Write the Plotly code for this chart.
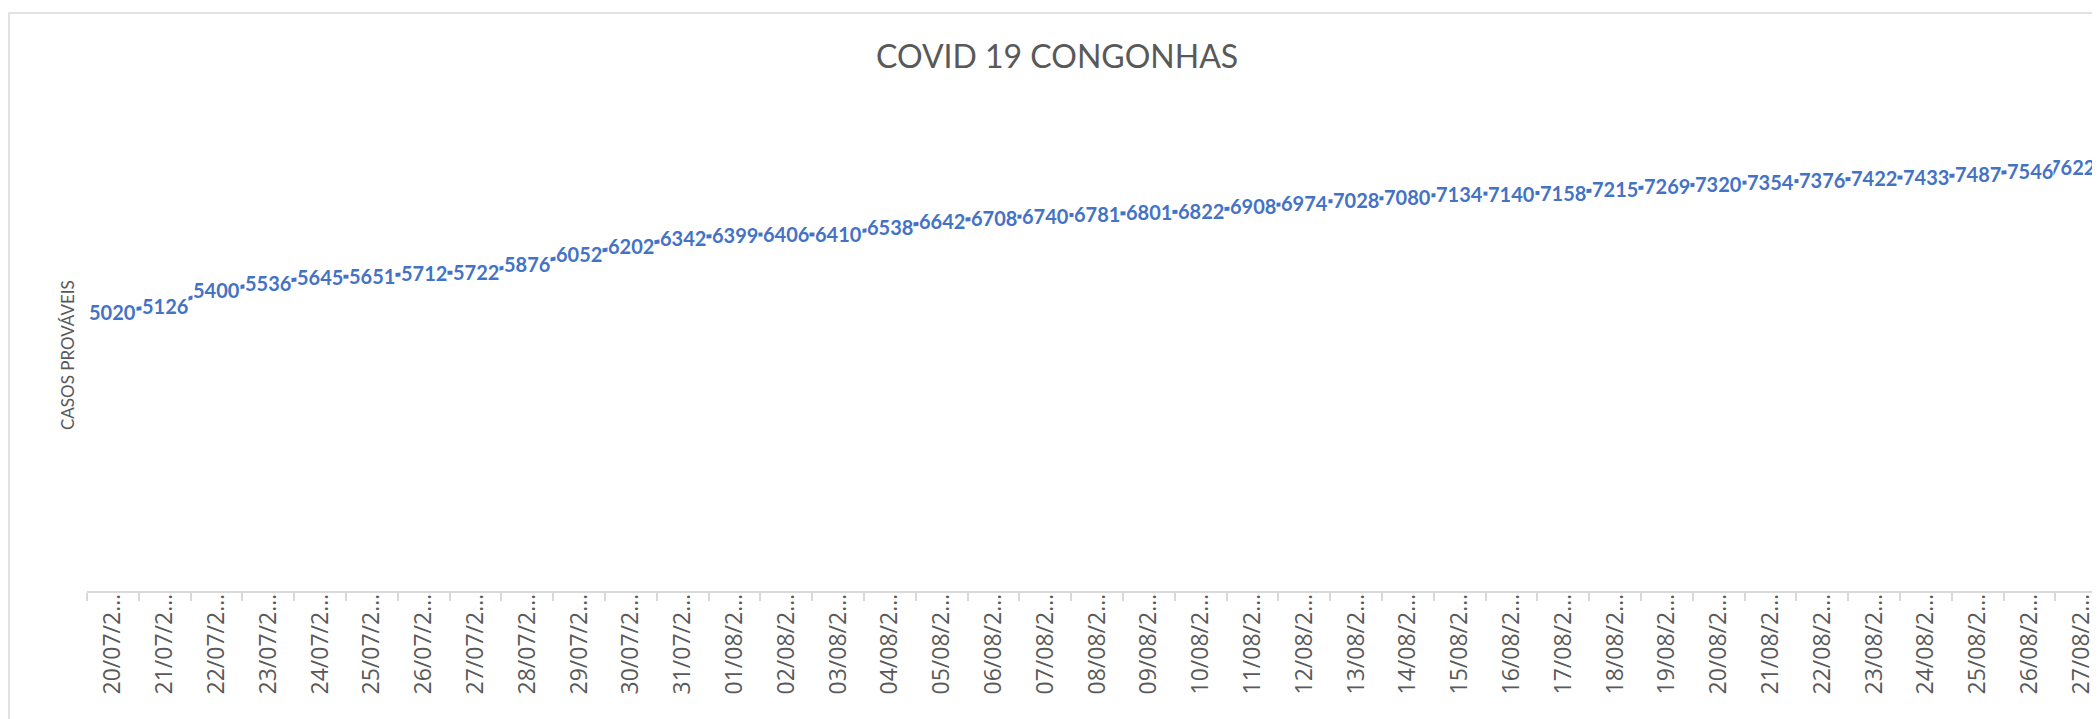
import plotly.graph_objects as go

dates = ["20/07/2…", "21/07/2…", "22/07/2…", "23/07/2…", "24/07/2…", "25/07/2…",
         "26/07/2…", "27/07/2…", "28/07/2…", "29/07/2…", "30/07/2…", "31/07/2…",
         "01/08/2…", "02/08/2…", "03/08/2…", "04/08/2…", "05/08/2…", "06/08/2…",
         "07/08/2…", "08/08/2…", "09/08/2…", "10/08/2…", "11/08/2…", "12/08/2…",
         "13/08/2…", "14/08/2…", "15/08/2…", "16/08/2…", "17/08/2…", "18/08/2…",
         "19/08/2…", "20/08/2…", "21/08/2…", "22/08/2…", "23/08/2…", "24/08/2…",
         "25/08/2…", "26/08/2…", "27/08/2…"]
casos = [5020, 5126, 5400, 5536, 5645, 5651, 5712, 5722, 5876, 6052, 6202, 6342,
         6399, 6406, 6410, 6538, 6642, 6708, 6740, 6781, 6801, 6822, 6908, 6974,
         7028, 7080, 7134, 7140, 7158, 7215, 7269, 7320, 7354, 7376, 7422, 7433,
         7487, 7546, 7622]

title_text = "COVID 19 CONGONHAS"
ytitle_text = "CASOS PROVÁVEIS"

# The page body has an 8px default margin; the figure is sized/positioned to compensate.
OFF = 8
W, H = 2100 - OFF, 719 - OFF
BLUE = "#4472C4"
GREY = "#595959"
LINE = "#D9D9D9"


def px(x):
    return (x - OFF) / W


def py(y):
    return 1 - (y - OFF) / H


fig = go.Figure()
fig.add_trace(go.Scatter(
    x=dates, y=casos, mode="lines",
    line=dict(color=BLUE, width=4),
    hoverinfo="skip", showlegend=False, cliponaxis=False,
))

annotations = []
n = len(casos)
# drawn from last to first so that earlier labels sit on top of later ones
for i in reversed(range(n)):
    annotations.append(dict(
        x=dates[i], y=casos[i], xref="x", yref="y", text=str(casos[i]), showarrow=False,
        font=dict(family="Lato", size=20, color=BLUE, weight="bold"),
        bgcolor="white", borderpad=0, xanchor="center", yanchor="middle",
        xshift=(-9 if i == n - 1 else 0),
    ))

annotations.append(dict(
    x=px(1057), y=py(56), xref="paper", yref="paper", text=title_text,
    showarrow=False, xanchor="center", yanchor="middle",
    font=dict(family="Lato", size=32, color=GREY),
))
annotations.append(dict(
    x=px(67), y=py(355), xref="paper", yref="paper", text=ytitle_text,
    showarrow=False, xanchor="center", yanchor="middle", textangle=-90,
    font=dict(family="Lato", size=17, color=GREY),
))

shapes = [dict(
    type="rect", xref="paper", yref="paper",
    x0=px(9), x1=1.01, y0=-0.02, y1=py(13),
    line=dict(color=LINE, width=1.5), fillcolor="rgba(0,0,0,0)", layer="below",
)]

fig.update_layout(
    width=W, height=H,
    margin=dict(l=0, r=0, t=0, b=0),
    paper_bgcolor="white", plot_bgcolor="white",
    annotations=annotations, shapes=shapes,
    xaxis=dict(
        type="category", domain=[px(87), 1.0], range=[-0.5, 38.36],
        showline=True, linecolor=LINE, linewidth=1.5,
        ticks="outside", tickson="boundaries", ticklen=8, tickcolor=LINE, tickwidth=1.5,
        tickangle=-90, tickfont=dict(family="Open Sans", size=23, color=GREY),
        showgrid=False, zeroline=False, ticklabelstandoff=-8,
    ),
    yaxis=dict(
        domain=[py(591), py(90)], range=[0, 9000],
        showgrid=False, zeroline=False, showticklabels=False, showline=False, ticks="",
    ),
)

fig.write_html("out.html")
